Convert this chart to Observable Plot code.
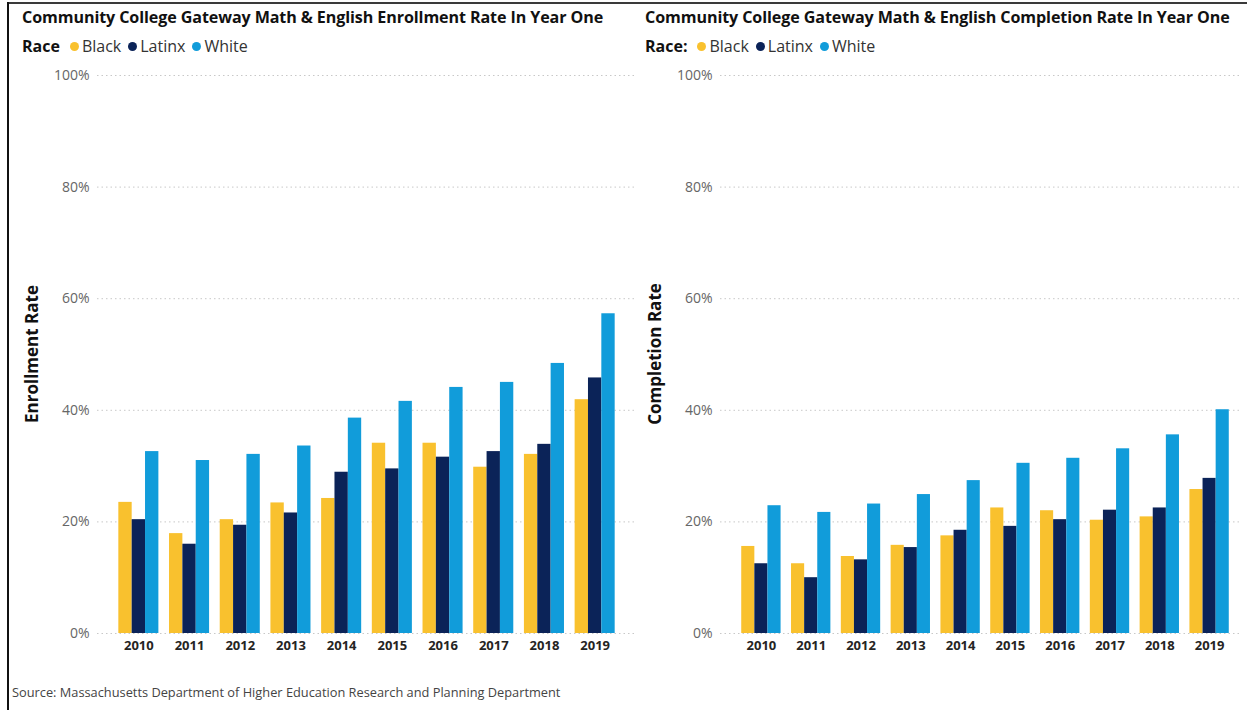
<!DOCTYPE html>
<html>
<head>
<meta charset="utf-8">
<script src="https://cdn.jsdelivr.net/npm/d3@7"></script>
<script src="https://cdn.jsdelivr.net/npm/@observablehq/plot@0.6"></script>
<style>
  html, body { margin: 0; padding: 0; background: #fff; }
  body { width: 1247px; height: 710px; overflow: hidden; position: relative; font-family: "Open Sans", "Noto Sans", sans-serif; }
  .topline { position: absolute; left: 7px; top: 2px; width: 1240px; height: 2px; background: #3a3a3a; }
  .leftline { position: absolute; left: 7px; top: 2px; width: 2px; height: 708px; background: #111; }
  .title { position: absolute; font-weight: 700; font-size: 16.1px; color: #111; white-space: nowrap; letter-spacing: -0.1px; }
  .legend { position: absolute; font-size: 16px; color: #333; white-space: nowrap; display: flex; align-items: center; }
  .legend b { color: #111; margin-right: 10px; }
  .legend .item { display: flex; align-items: center; margin-right: 7px; }
  .legend .dot { width: 9px; height: 9px; border-radius: 50%; display: inline-block; margin-right: 3px; }
  .ylabel { position: absolute; font-weight: 700; font-size: 17px; color: #111; white-space: nowrap; transform: translate(-50%, -50%) rotate(-90deg); }
  .chart { position: absolute; }
  .source { position: absolute; left: 12px; top: 683px; font-size: 12.8px; color: #444; white-space: nowrap; }
</style>
</head>
<body>
<div class="topline"></div>
<div class="leftline"></div>
<script>
// ---- Data ----
const years = ["2010","2011","2012","2013","2014","2015","2016","2017","2018","2019"];
const races = ["Black","Latinx","White"];
const raceColors = ["#F9C12E","#0B2358","#119CDA"];
const yTicks = [0, 20, 40, 60, 80, 100];

const enrollmentBlack  = [23.5, 17.9, 20.4, 23.4, 24.2, 34.1, 34.1, 29.8, 32.1, 41.9];
const enrollmentLatinx = [20.4, 16.0, 19.4, 21.6, 28.9, 29.5, 31.6, 32.6, 33.9, 45.8];
const enrollmentWhite  = [32.6, 31.0, 32.1, 33.6, 38.6, 41.6, 44.1, 45.0, 48.4, 57.3];

const completionBlack  = [15.6, 12.5, 13.8, 15.8, 17.5, 22.5, 22.0, 20.3, 20.9, 25.8];
const completionLatinx = [12.5, 10.0, 13.2, 15.4, 18.5, 19.2, 20.4, 22.1, 22.5, 27.8];
const completionWhite  = [22.9, 21.7, 23.2, 24.9, 27.4, 30.5, 31.4, 33.1, 35.6, 40.1];

const sourceText = "Source: Massachusetts Department of Higher Education Research and Planning Department";

function toRows(seriesList) {
  const rows = [];
  years.forEach((y, i) => races.forEach((r, j) => rows.push({year: y, race: r, value: seriesList[j][i]})));
  return rows;
}

function addDiv(cls, text, style) {
  const d = document.createElement("div");
  d.className = cls;
  if (text != null) d.textContent = text;
  Object.assign(d.style, style);
  document.body.appendChild(d);
  return d;
}

function legend(left, top, label) {
  const lg = addDiv("legend", null, {left: left + "px", top: top + "px"});
  const b = document.createElement("b");
  b.textContent = label;
  lg.appendChild(b);
  races.forEach((r, i) => {
    const it = document.createElement("span");
    it.className = "item";
    const dot = document.createElement("span");
    dot.className = "dot";
    dot.style.background = raceColors[i];
    it.appendChild(dot);
    it.appendChild(document.createTextNode(r));
    lg.appendChild(it);
  });
}

function panel(cfg) {
  addDiv("title", cfg.title, {left: cfg.left + 14 + "px", top: "6px"});
  legend(cfg.left + 14, 35, cfg.legendLabel);
  addDiv("ylabel", cfg.ylabel, {left: cfg.left + cfg.ylabelX + "px", top: "354px"});

  const data = toRows(cfg.series);
  const width = cfg.width, height = 600;
  const [r0, r1] = cfg.xRange;
  const pInner = 0.21;
  const step = (r1 - r0) / years.length;
  const bw = step * (1 - pInner);
  const third = bw / 3;

  const barMarks = races.map((race, j) =>
    Plot.barY(data.filter(d => d.race === race), {
      x: "year", y: "value", fill: raceColors[j],
      insetLeft: j * third, insetRight: (2 - j) * third
    })
  );

  const chart = Plot.plot({
    width, height,
    marginTop: 15, marginBottom: 27, marginLeft: 89, marginRight: cfg.marginRight,
    style: {fontFamily: '"Open Sans", "Noto Sans", sans-serif', background: "transparent", overflow: "visible"},
    x: {type: "band", domain: years, range: [r0, r1], paddingInner: pInner, paddingOuter: pInner / 2, align: 0.5, round: false},
    y: {domain: [0, 100]},
    marks: [
      Plot.gridY(yTicks, {stroke: "#c8c8c8", strokeOpacity: 1, strokeDasharray: "1.5,3"}),
      ...barMarks,
      Plot.axisY(yTicks, {tickSize: 0, tickPadding: 8, tickFormat: d => d + "%", fontSize: 14, fill: "#666", label: null}),
      Plot.axisX({tickSize: 0, tickPadding: 7, fontSize: 13, fontWeight: "bold", fill: "#252423", label: null})
    ]
  });
  chart.classList.add("chart");
  chart.style.left = cfg.left + "px";
  chart.style.top = "60px";
  document.body.appendChild(chart);
}

panel({
  left: 8, width: 632, marginRight: 4, xRange: [105, 612],
  title: "Community College Gateway Math & English Enrollment Rate In Year One",
  legendLabel: "Race", ylabel: "Enrollment Rate", ylabelX: 23,
  series: [enrollmentBlack, enrollmentLatinx, enrollmentWhite]
});
panel({
  left: 631, width: 616, marginRight: 7, xRange: [105, 603],
  title: "Community College Gateway Math & English Completion Rate In Year One",
  legendLabel: "Race:", ylabel: "Completion Rate", ylabelX: 23,
  series: [completionBlack, completionLatinx, completionWhite]
});

addDiv("source", sourceText, {});
</script>
</body>
</html>
